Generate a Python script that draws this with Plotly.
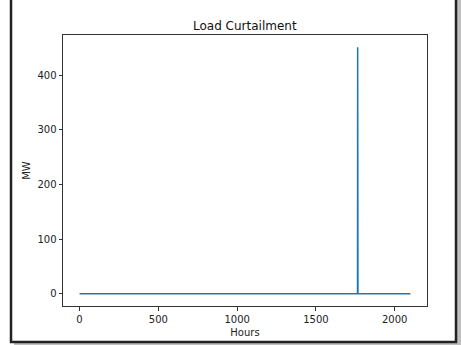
import plotly.graph_objects as go

# Data (sparse representation of the hourly series: zero except near the spike)
hours = [0, 1764, 1765, 1766, 1767, 2100]
mw = [0, 0, 451, 205, 0, 0]

x_ticks = [0, 500, 1000, 1500, 2000]
y_ticks = [0, 100, 200, 300, 400]

title_text = "Load Curtailment"
x_title = "Hours"
y_title = "MW"

W, H = 461, 345
L, R, T, B = 63, 427, 35, 306
pw, ph = R - L, B - T


def px(x):
    return (x - L) / pw


def py(y):
    return (B - y) / ph


fig = go.Figure()
fig.add_trace(go.Scatter(x=hours, y=mw, mode="lines",
                         line=dict(color="#1f77b4", width=1.5),
                         showlegend=False, hoverinfo="skip"))

font = dict(family="DejaVu Sans", size=10, color="#222222")

axis_common = dict(showgrid=False, zeroline=False, showline=True, mirror=True,
                   linecolor="#333333", linewidth=1, ticks="outside", ticklen=3.5,
                   tickwidth=1, tickcolor="#333333", tickfont=font, automargin=False)

fig.update_layout(
    width=W, height=H,
    margin=dict(l=L, r=W - R, t=T, b=H - B, autoexpand=False),
    paper_bgcolor="white", plot_bgcolor="white",
    xaxis=dict(range=[-105, 2205], tickvals=x_ticks,
               title=dict(text=x_title, font=font, standoff=5), **axis_common),
    yaxis=dict(range=[-22.5, 473.5], tickvals=y_ticks,
               title=dict(text=y_title, font=font, standoff=4), **axis_common),
)

# Title
fig.add_annotation(text=title_text, xref="paper", yref="paper",
                   x=0.5, y=py(26), xanchor="center", yanchor="middle",
                   showarrow=False, font=dict(family="DejaVu Sans", size=12, color="#111111"))

# Outer frame with shadow
shapes = []
shapes.append(dict(type="rect", xref="paper", yref="paper",
                   x0=px(14), x1=px(461), y0=py(345), y1=py(-5),
                   fillcolor="rgba(0,0,0,0.25)", line=dict(width=0), layer="below"))
shapes.append(dict(type="rect", xref="paper", yref="paper",
                   x0=px(11), x1=px(456), y0=py(342), y1=py(-5),
                   fillcolor="white", line=dict(color="#222222", width=2.5), layer="below"))
fig.update_layout(shapes=shapes)

fig.write_html("out.html")
